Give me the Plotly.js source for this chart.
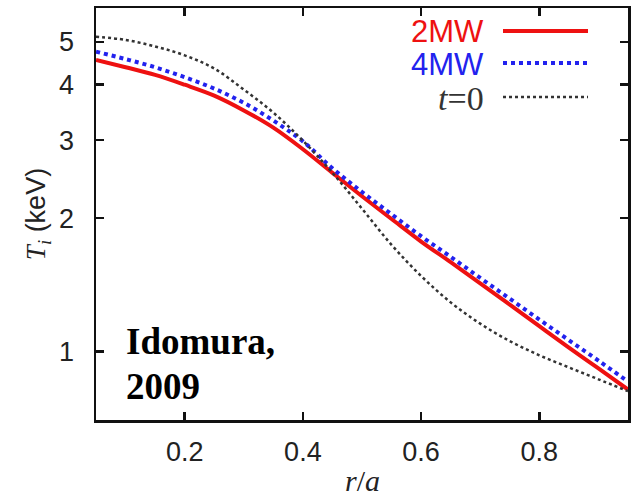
<!DOCTYPE html>
<html>
<head>
<meta charset="utf-8">
<script src="https://cdn.plot.ly/plotly-3.0.1.min.js"></script>
<style>html,body{margin:0;padding:0;background:#fff;}#chart{width:632px;height:498px;}</style>
</head>
<body>
<div id="chart"></div>
<script>
// r/a positions
const rOverA = [0.05,0.10,0.15,0.20,0.25,0.30,0.35,0.40,0.45,0.50,0.55,0.60,0.65,0.70,0.75,0.80,0.85,0.90,0.95];
// Ti (keV) for each case
const ti2MW = [4.55,4.38,4.21,4.00,3.78,3.50,3.20,2.86,2.53,2.24,1.99,1.77,1.59,1.425,1.275,1.14,1.02,0.915,0.82];
const ti4MW = [4.75,4.57,4.38,4.16,3.92,3.64,3.32,2.98,2.59,2.29,2.04,1.82,1.635,1.465,1.315,1.18,1.06,0.953,0.855];
const tiT0  = [5.13,5.05,4.88,4.66,4.35,3.90,3.46,2.99,2.53,2.10,1.74,1.48,1.29,1.155,1.055,0.98,0.92,0.865,0.813];
const seriesNames = ['2MW','4MW','t=0'];
const xTicks = [0.2,0.4,0.6,0.8];
const yTicks = [1,2,3,4,5];

const traces = [
  {x: rOverA, y: ti2MW, name: seriesNames[0], mode: 'lines', line: {color: '#ee1111', width: 4, shape: 'spline', smoothing: 1}},
  {x: rOverA, y: ti4MW, name: seriesNames[1], mode: 'lines', line: {color: '#2222ee', width: 4, dash: 'dot', shape: 'spline', smoothing: 1}},
  {x: rOverA, y: tiT0, name: seriesNames[2], mode: 'lines', line: {color: '#333333', width: 2.5, dash: 'dot', shape: 'spline', smoothing: 1}}
];

const axisCommon = {
  showline: true, linecolor: '#111', linewidth: 2.5, mirror: 'ticks',
  ticks: 'inside', ticklen: 8, tickwidth: 2.5, tickcolor: '#111',
  showgrid: false, zeroline: false,
  tickfont: {family: 'Liberation Sans, Arial, sans-serif', size: 27, color: '#222'}
};

const layout = {
  width: 632, height: 498,
  margin: {l: 96, r: 4, t: 8, b: 78},
  paper_bgcolor: '#fff', plot_bgcolor: '#fff',
  showlegend: false,
  xaxis: Object.assign({}, axisCommon, {
    range: [0.05, 0.95], tickvals: xTicks, ticktext: xTicks.map(v => v.toFixed(1)),
    ticklabelstandoff: 6
  }),
  yaxis: Object.assign({}, axisCommon, {
    type: 'log', range: [Math.log10(0.70), Math.log10(5.96)],
    tickvals: yTicks, ticktext: yTicks.map(String),
    ticklabelstandoff: 14,
    title: {text: '<span style="font-family:Liberation Serif;font-style:italic">T<sub>i</sub></span> (keV)', font: {family: 'Liberation Sans, Arial, sans-serif', size: 27, color: '#222'}, standoff: 6}
  }),
  annotations: [
    {xref: 'paper', yref: 'paper', x: 0.5, y: (420-480)/412, xanchor: 'center', yanchor: 'middle', showarrow: false,
     text: '<i>r</i>/<i>a</i>', font: {family: 'Liberation Serif, Times New Roman, serif', size: 30, color: '#222'}},
    {xref: 'paper', yref: 'paper', x: (124-96)/532, y: (420-341)/412, xanchor: 'left', yanchor: 'middle', showarrow: false,
     text: '<b>Idomura,</b>', font: {family: 'Liberation Serif, Times New Roman, serif', size: 37, color: '#000'}},
    {xref: 'paper', yref: 'paper', x: (124-96)/532, y: (420-386)/412, xanchor: 'left', yanchor: 'middle', showarrow: false,
     text: '<b>2009</b>', font: {family: 'Liberation Serif, Times New Roman, serif', size: 37, color: '#000'}},
    {xref: 'paper', yref: 'paper', x: (486-96)/532, y: (420-32)/412, xanchor: 'right', yanchor: 'middle', showarrow: false,
     text: seriesNames[0], font: {family: 'Liberation Sans, Arial, sans-serif', size: 31, color: '#ee1111'}},
    {xref: 'paper', yref: 'paper', x: (486-96)/532, y: (420-64)/412, xanchor: 'right', yanchor: 'middle', showarrow: false,
     text: seriesNames[1], font: {family: 'Liberation Sans, Arial, sans-serif', size: 31, color: '#2222ee'}},
    {xref: 'paper', yref: 'paper', x: (486-96)/532, y: (420-98)/412, xanchor: 'right', yanchor: 'middle', showarrow: false,
     text: '<i>t</i>=0', font: {family: 'Liberation Serif, Times New Roman, serif', size: 34, color: '#333'}}
  ],
  shapes: [
    {type: 'line', xref: 'paper', yref: 'paper', x0: (503-96)/532, x1: (588-96)/532, y0: (420-31)/412, y1: (420-31)/412, line: {color: '#ee1111', width: 4}},
    {type: 'line', xref: 'paper', yref: 'paper', x0: (503-96)/532, x1: (588-96)/532, y0: (420-63)/412, y1: (420-63)/412, line: {color: '#2222ee', width: 4, dash: 'dot'}},
    {type: 'line', xref: 'paper', yref: 'paper', x0: (503-96)/532, x1: (588-96)/532, y0: (420-97)/412, y1: (420-97)/412, line: {color: '#333333', width: 2.5, dash: 'dot'}}
  ]
};

Plotly.newPlot('chart', traces, layout, {displayModeBar: false, staticPlot: true});
</script>
</body>
</html>
